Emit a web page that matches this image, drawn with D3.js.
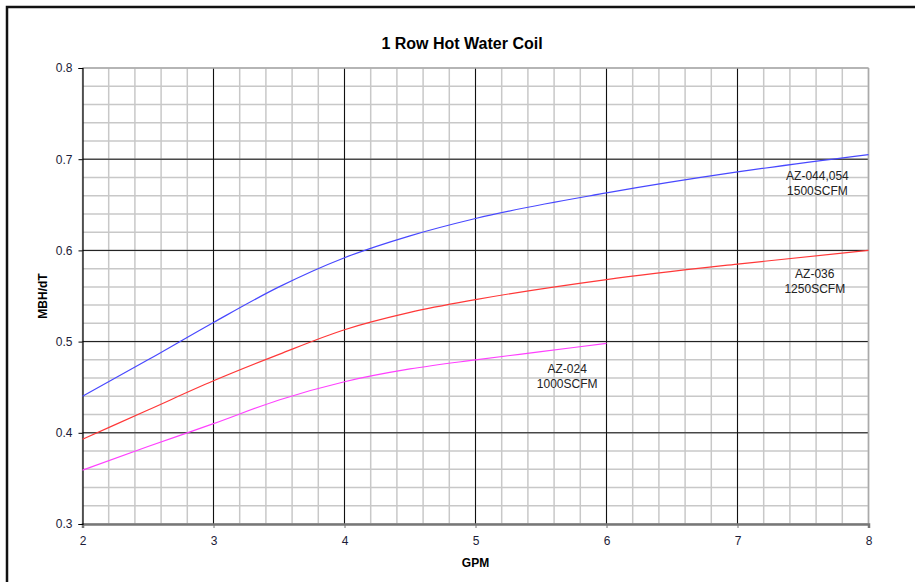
<!DOCTYPE html>
<html>
<head>
<meta charset="utf-8">
<script src="https://cdn.jsdelivr.net/npm/d3@7"></script>
<style>
  body { margin: 0; background: #fff; }
  text { font-family: "Liberation Sans", Arial, sans-serif; }
</style>
</head>
<body>
<div id="chart"></div>
<script>
// Chart data
var gpmBlue = [2, 2.5, 3, 3.5, 4, 4.5, 5, 6, 7, 8];
var az044 = [0.440, 0.480, 0.521, 0.560, 0.592, 0.616, 0.635, 0.663, 0.686, 0.705];
var gpmRed = [2, 2.5, 3, 3.5, 4, 4.5, 5, 6, 7, 8];
var az036 = [0.393, 0.425, 0.457, 0.486, 0.513, 0.532, 0.546, 0.568, 0.585, 0.600];
var gpmMagenta = [2, 2.5, 3, 3.5, 4, 4.5, 5, 5.5, 6];
var az024 = [0.359, 0.385, 0.410, 0.436, 0.456, 0.470, 0.480, 0.489, 0.498];
var xTicks = [2, 3, 4, 5, 6, 7, 8];
var yTicks = [0.3, 0.4, 0.5, 0.6, 0.7, 0.8];

var width = 915, height = 582;
var margin = { left: 82.5, right: 915 - 868.5, top: 68, bottom: 582 - 524 };

var svg = d3.select("#chart").append("svg")
  .attr("width", width)
  .attr("height", height);

// outer frame (only left and top visible in the picture)
svg.append("path")
  .attr("d", "M7,582 L7,7 L915,7")
  .attr("fill", "none")
  .attr("stroke", "#111")
  .attr("stroke-width", 2.5);

var x = d3.scaleLinear().domain([2, 8]).range([margin.left, width - margin.right]);
var y = d3.scaleLinear().domain([0.3, 0.8]).range([height - margin.bottom, margin.top]);

// minor grid
var g = svg.append("g");
g.selectAll(".vminor")
  .data(d3.range(2, 8.001, 0.2))
  .join("line")
  .attr("x1", d => x(d)).attr("x2", d => x(d))
  .attr("y1", y(0.3)).attr("y2", y(0.8))
  .attr("stroke", "#c8c8c8").attr("stroke-width", 1.5);
g.selectAll(".hminor")
  .data(d3.range(0.3, 0.8001, 0.02))
  .join("line")
  .attr("x1", x(2)).attr("x2", x(8))
  .attr("y1", d => y(d)).attr("y2", d => y(d))
  .attr("stroke", "#c8c8c8").attr("stroke-width", 1.5);

// major grid
g.selectAll(".vmajor")
  .data(xTicks.slice(1, -1))
  .join("line")
  .attr("x1", d => x(d)).attr("x2", d => x(d))
  .attr("y1", y(0.3)).attr("y2", y(0.8))
  .attr("stroke", "#111").attr("stroke-width", 1);
g.selectAll(".hmajor")
  .data(yTicks.slice(1, -1))
  .join("line")
  .attr("x1", x(2)).attr("x2", x(8))
  .attr("y1", d => y(d)).attr("y2", d => y(d))
  .attr("stroke", "#111").attr("stroke-width", 1);

// plot edges
svg.append("line")
  .attr("x1", x(2)).attr("x2", x(8)).attr("y1", y(0.8)).attr("y2", y(0.8))
  .attr("stroke", "#aaa").attr("stroke-width", 1.5);
svg.append("line")
  .attr("x1", x(8)).attr("x2", x(8)).attr("y1", y(0.8)).attr("y2", y(0.3))
  .attr("stroke", "#aaa").attr("stroke-width", 1.5);

// axes
var xAxis = svg.append("g")
  .attr("transform", "translate(0," + y(0.3) + ")")
  .call(d3.axisBottom(x).tickValues(xTicks).tickFormat(d3.format("d")).tickSize(4).tickPadding(8));
xAxis.select(".domain").attr("stroke", "#777").attr("stroke-width", 2.5);
xAxis.selectAll(".tick line").attr("stroke", "#777");

var yAxis = svg.append("g")
  .attr("transform", "translate(" + x(2) + ",0)")
  .call(d3.axisLeft(y).tickValues(yTicks).tickFormat(d3.format(".1f")).tickSize(4).tickPadding(6));
yAxis.select(".domain").attr("stroke", "#000").attr("stroke-width", 1.2);

svg.selectAll(".tick text")
  .attr("fill", "#1c1c38")
  .style("font-size", "12px");

// curves
var line = d3.line().x(d => x(d[0])).y(d => y(d[1])).curve(d3.curveMonotoneX);
var series = [
  { xs: gpmBlue, ys: az044, color: "#4848ff" },
  { xs: gpmRed, ys: az036, color: "#ff3838" },
  { xs: gpmMagenta, ys: az024, color: "#ff40ff" }
];
series.forEach(function (s) {
  svg.append("path")
    .datum(s.xs.map((v, i) => [v, s.ys[i]]))
    .attr("d", line)
    .attr("fill", "none")
    .attr("stroke", s.color)
    .attr("stroke-width", 1.2);
});

// curve labels
var labels = [
  { lines: ["AZ-044,054", "1500SCFM"], gx: 7.61, gy: 0.677 },
  { lines: ["AZ-036", "1250SCFM"], gx: 7.59, gy: 0.570 },
  { lines: ["AZ-024", "1000SCFM"], gx: 5.7, gy: 0.466 }
];
labels.forEach(function (l) {
  var t = svg.append("text")
    .attr("text-anchor", "middle")
    .attr("fill", "#222")
    .style("font-size", "12px");
  l.lines.forEach(function (s, i) {
    t.append("tspan")
      .attr("x", x(l.gx))
      .attr("y", y(l.gy) + i * 15)
      .text(s);
  });
});

// titles
svg.append("text")
  .attr("x", 462).attr("y", 49)
  .attr("text-anchor", "middle")
  .style("font-size", "16px").style("font-weight", "bold")
  .text("1 Row Hot Water Coil");

svg.append("text")
  .attr("x", x(5)).attr("y", 567)
  .attr("text-anchor", "middle")
  .style("font-size", "12px").style("font-weight", "bold")
  .text("GPM");

svg.append("text")
  .attr("transform", "translate(47," + y(0.55) + ") rotate(-90)")
  .attr("text-anchor", "middle")
  .style("font-size", "12px").style("font-weight", "bold")
  .text("MBH/dT");
</script>
</body>
</html>
